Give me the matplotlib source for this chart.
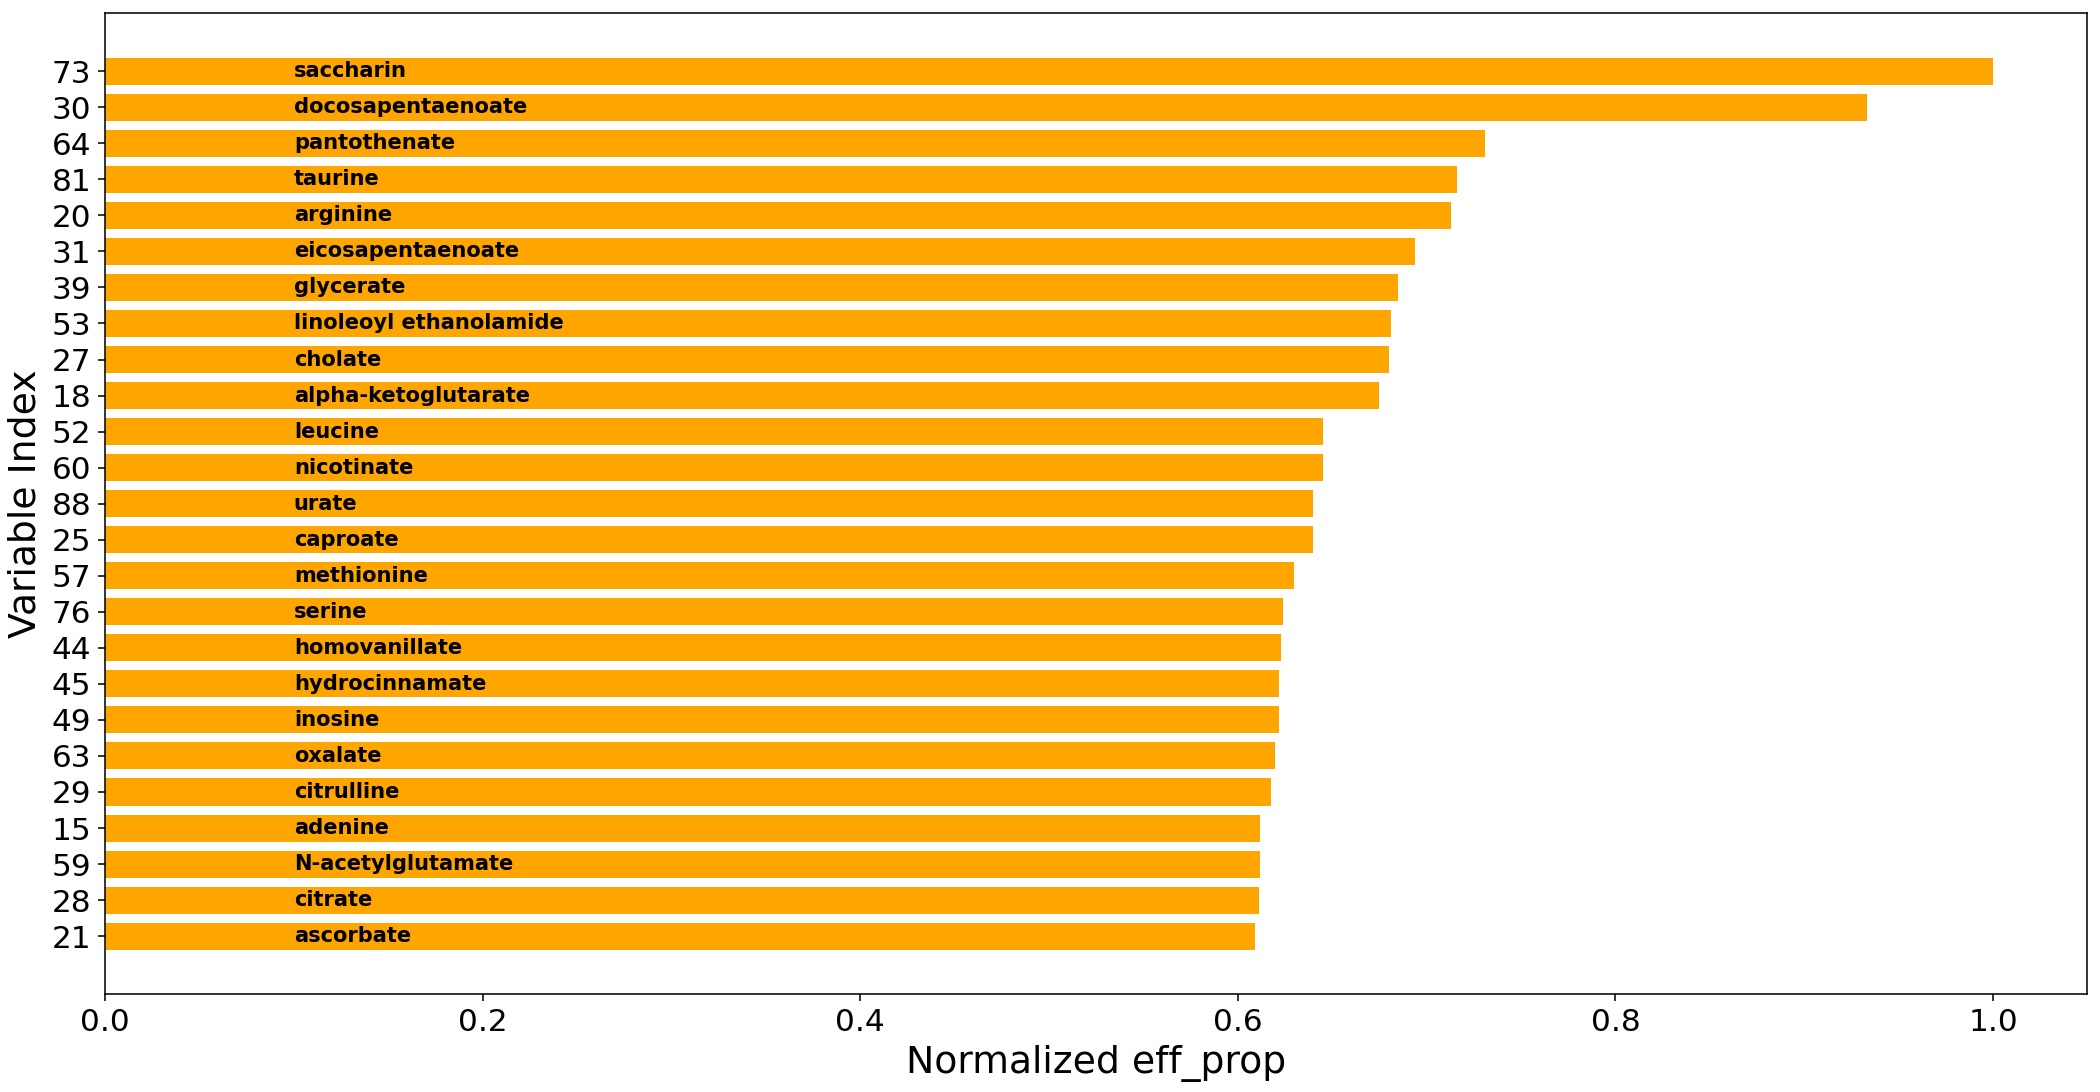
import numpy as np
import matplotlib
matplotlib.use("Agg")
import matplotlib.pyplot as plt

# variable index, metabolite name, normalized eff_prop (sorted, largest first)
var_idx = [73, 30, 64, 81, 20, 31, 39, 53, 27, 18, 52, 60, 88,
           25, 57, 76, 44, 45, 49, 63, 29, 15, 59, 28, 21]
names = ["saccharin", "docosapentaenoate", "pantothenate", "taurine",
         "arginine", "eicosapentaenoate", "glycerate",
         "linoleoyl ethanolamide", "cholate", "alpha-ketoglutarate",
         "leucine", "nicotinate", "urate", "caproate", "methionine",
         "serine", "homovanillate", "hydrocinnamate", "inosine", "oxalate",
         "citrulline", "adenine", "N-acetylglutamate", "citrate", "ascorbate"]
eff_prop = [1.000, 0.933, 0.731, 0.716, 0.713, 0.694, 0.685, 0.681, 0.680,
            0.675, 0.645, 0.645, 0.640, 0.640, 0.630, 0.624, 0.623, 0.622,
            0.6216, 0.6195, 0.6177, 0.612, 0.612, 0.611, 0.609]

fig, ax = plt.subplots(figsize=(15, 7.8), dpi=140)
pos = np.arange(len(var_idx))
ax.barh(pos, eff_prop, color="orange", height=0.75)
for p, n in zip(pos, names):
    ax.text(0.1, p, n, va="center", ha="left", fontsize=10.8, fontweight="bold")

ax.set_yticks(pos)
ax.set_yticklabels([str(v) for v in var_idx])
ax.invert_yaxis()
ax.tick_params(labelsize=16)
ax.set_xlabel("Normalized eff_prop", fontsize=19.4)
ax.set_ylabel("Variable Index", fontsize=19.4)

fig.subplots_adjust(left=0.05, right=0.994, top=0.988, bottom=0.0895)
fig.savefig("out.png", dpi=140)
